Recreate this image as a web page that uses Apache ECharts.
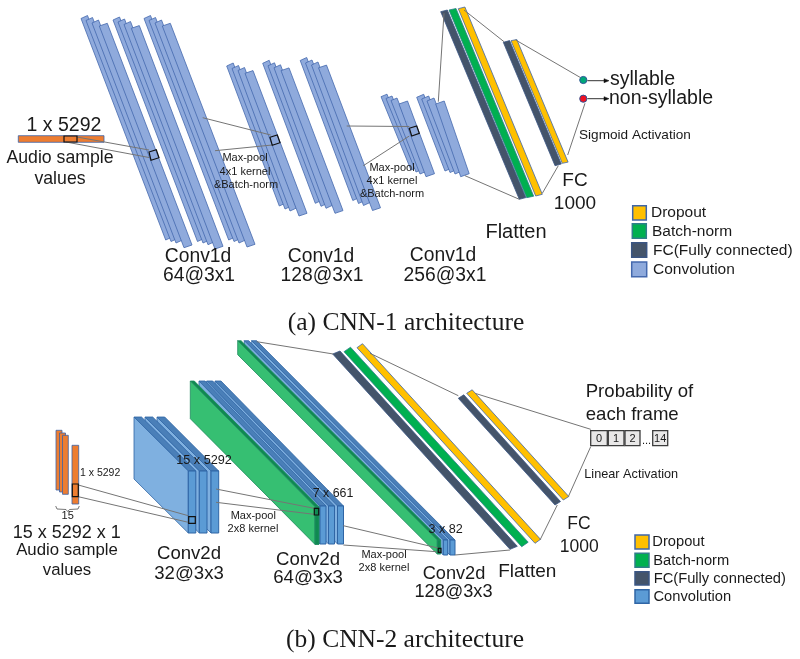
<!DOCTYPE html>
<html><head><meta charset="utf-8">
<style>html,body{margin:0;padding:0;background:#fff}#c{width:800px;height:659px}</style>
<script src="https://cdn.jsdelivr.net/npm/echarts@6/dist/echarts.min.js"></script>
</head><body><div id="c"></div>
<script>
// Colours of the layer kinds
const kinds = {
  conv1:{fill:'#8faadc',stroke:'#4468ad'},
  drop:{fill:'#ffc000',stroke:'#3f66a8'},
  batch:{fill:'#00b050',stroke:'#2f7f8a'},
  fc:{fill:'#44546a',stroke:'#3a5584'},
  orange:{fill:'#ed7d31',stroke:'#3a62a8'},
  conv2:{fill:'#5b9bd5',stroke:'#2f65a5'}
};
// Slanted slabs: top x, top y, bottom x, bottom y, width dx, width dy
const cnn1Conv = [
 [81,18.5,165.7,240,6.5,-3],[86,20.5,171,241.5,6.5,-3],[92,23,176,243,6.5,-3],[99.3,26,184,247.7,8,-2.7],
 [113,20,197.5,241.5,6.5,-3],[118,22,203,243,6.5,-3],[124,24.5,208,244.7,6.5,-3],[131.3,28.3,215,249,8,-2.7],
 [144,18.5,228.7,240,6.5,-3],[149,20.5,234,241.5,6.5,-3],[155,23,239,243,6.5,-3],[162.3,26,247,247,8,-2.7],
 [226.7,66,279.3,206,6.5,-3],[232,68.5,285,209,6.5,-3],[238,70.5,290,211,6.5,-3],[245,73.3,299,216,8,-2.7],
 [262.7,63.3,315.3,203.3,6.5,-3],[268,65.8,321,206.3,6.5,-3],[274,67.8,326,208.3,6.5,-3],[281,70.6,335,213.3,8,-2.7],
 [300.2,60.5,352.8,200.5,6.5,-3],[305.5,63,358.5,203.5,6.5,-3],[311.5,65,363.5,205.5,6.5,-3],[318.5,67.8,372.5,210.5,8,-2.7],
 [381,96.7,411,170,6,-2.5],[386,98.5,416,172,6,-2.5],[391,100.5,420,174,6,-2.5],[399,104,426,176.7,8.5,-3],
 [416.7,97.3,445,171,7,-3],[421.7,99,450,172.5,7,-3],[427,101,455,174,7,-3],[435.7,104,460.7,176.7,8.5,-3]
];
const cnn1Fc = [[440.7,11.7,519.3,199.3,6.6,-1.7],[503.3,42.3,555,165.7,6.3,-1.7]];
const cnn1Batch = [[449,10,526.7,197.7,7,-1.5]];
const cnn1Drop = [[458.3,8.7,535.7,196,6.6,-1.7],[511,40.7,562.3,163.3,5.8,-1.2]];
const cnn2Fc = [[332.7,354,510,549.3,7.3,-3],[458.3,398.3,555,505,5.5,-3.5]];
const cnn2Batch = [[344,351.7,521.7,546.7,6.5,-4.5]];
const cnn2Drop = [[357,347.7,535,543.3,5.5,-4],[466.7,393.3,563.3,500,5.5,-3.5]];

// Upright rectangles: x0, y0, x1, y1
const orangeBars = [[18.3,135.7,104,142.3],[56,430.3,62,490],[59.5,433,65.5,492],[62.5,435.3,68.3,494.3],[72,445.3,78.7,504]];
const probCells = [[590.7,430.7,607.3,445.7],[608.3,430.7,624,445.7],[625,430.7,640,445.7],[652.7,430.7,667.7,445.7]];
const blackBoxes = [[64,136,77,142],[72.3,484,78.3,496.7],[188.7,516.7,195.3,523.3],[314.3,508.3,318.7,515],[438.3,548.3,441,552.3]];
const blackQuads = [
 [[149,152],[156.3,149.7],[159,157.7],[151,160.3]],
 [[270,137.3],[277.3,135],[280,142.7],[272.3,145.3]],
 [[409.3,128.3],[416.7,126],[419.3,133.3],[411.7,136]]
];
const legendBoxes = [
 ['drop',632.7,205.7,646.3,220],['batch',632.3,223.7,646.3,238.3],['fc',631.7,242.7,646.7,257.3],['conv1',631.7,262,646.7,276.7],
 ['drop',635,535,649,549],['batch',635,553.3,649,567.3],['fc',635,571.7,649,585],['conv2',635,589.7,649,603.3]
];
// 3-D blocks, drawn in order: back x, back y, front x, front y, front width, height, side colour, front colour, stroke, top colour
const prisms = [
 [157,417,211,471,7.7,62,'#7fb0e0','#5b9bd5','#2f65a5','#4a7fb8'],
 [145,417,199.3,471,7.7,62,'#7fb0e0','#5b9bd5','#2f65a5','#4a7fb8'],
 [134,417,188.3,471,7.5,62,'#7fb0e0','#5b9bd5','#2f65a5','#4a7fb8'],
 [215,381,337.5,506,6,38,'#7fb0e0','#5b9bd5','#2f65a5','#4a7fb8'],
 [206.7,381,328.5,506,6,38,'#7fb0e0','#5b9bd5','#2f65a5','#4a7fb8'],
 [199,381,320,506,6,38,'#7fb0e0','#5b9bd5','#2f65a5','#4a7fb8'],
 [190.3,381,315,506.7,4,37.7,'#36bf72','#0f8a50','#1f8a60','#0f8a50'],
 [251.7,340.7,450,540,5,15,'#7fb0e0','#5b9bd5','#2f65a5','#4a7fb8'],
 [244.3,340.7,443.3,540,4.4,15,'#7fb0e0','#5b9bd5','#2f65a5','#4a7fb8'],
 [237.7,340.7,437.3,540,3.4,14,'#36bf72','#0f8a50','#1f8a60','#0f8a50']
];
// Connector lines: x0, y0, x1, y1
const greyLines = [
 [202.7,117.7,270.7,135],[215,150.7,272.3,145],[346.7,126,409.3,126.5],[363.3,165.7,409.3,136],
 [438.3,101.7,444,13.3],[465,175.7,519.3,199.3],[464,10,504,41.7],[515.7,40,580,77.3],[542.3,193.3,558.3,165.7],[567.7,155,585,103.3],
 [77,137,149,150],[66,142,149,157.5],
 [256.7,341.7,333.3,354],[370,353.3,458.3,395.7],[475,393.3,590.7,429.3],[568.3,496.7,590.7,446.7],[540,540,557.3,505],[455,555,510,550],
 [343.3,525.7,438,548],[343.3,545,436.7,551.7],[216,489,314,508.3],[216,502.3,314,514.3],[78.3,485,188.3,515.7],[78.3,496.7,188.3,522.3]
];
const arrowLines = [[587.3,80.7,605,80.7],[587.3,98.7,605,98.7]];
const arrowHeads = [[[604,78.7],[609,80.7],[604,82.7]],[[604,96.7],[609,98.7],[604,100.7]]];
const brace = [[55.7,506],[57,509],[66,509.5],[67.7,511.5],[69.5,509.5],[78,509],[79.3,506]];
// Output nodes: x, y, colour
const outputNodes = [[583.3,80,'#00a878'],[583.3,98.7,'#ee1122']];
// Text: string, x, y, size, align
const sansLabels = [
 ['1 x 5292',64,126,19.5,'center'],['Audio sample',60,158,17.7,'center'],['values',60,179,17.7,'center'],
 ['Conv1d',198,257,19.3,'center'],['64@3x1',199,276,19.3,'center'],['Conv1d',321,257,19.3,'center'],['128@3x1',322,276,19.3,'center'],
 ['Conv1d',443,256,19.3,'center'],['256@3x1',445,276,19.3,'center'],['Flatten',516,232,20,'center'],['FC',575,181,19,'center'],['1000',575,204,19,'center'],
 ['syllable',610,80,19.5,'left'],['non-syllable',609,99,19.5,'left'],['Sigmoid Activation',579,135,13.6,'left'],
 ['Max-pool',245,158,11,'center'],['4x1 kernel',245,172,11,'center'],['&Batch-norm',246,185,11,'center'],
 ['Max-pool',392,167.5,11,'center'],['4x1 kernel',392,181,11,'center'],['&Batch-norm',392,194,11,'center'],
 ['Dropout',651,213,15.5,'left'],['Batch-norm',652,232,15.5,'left'],['FC(Fully connected)',653,251,15.5,'left'],['Convolution',653,270,15.5,'left'],
 ['1 x 5292',80,473.3,10.5,'left'],['15',67.7,516,11,'center'],['15 x 5292 x 1',66.7,533,18,'center'],['Audio sample',67,550.7,16.8,'center'],['values',67,570.7,16.8,'center'],
 ['Conv2d',189,554,18.6,'center'],['32@3x3',189,574.3,18.6,'center'],['Conv2d',308,560,18.6,'center'],['64@3x3',308,578.3,18.6,'center'],
 ['Conv2d',454,574.3,18.2,'center'],['128@3x3',453.5,592.3,18.2,'center'],['Flatten',527.3,571.7,19,'center'],['FC',579,524,17.5,'center'],['1000',579.3,546.7,17.5,'center'],
 ['15 x 5292',204,460,12.7,'center'],['7 x 661',333,494,12.4,'center'],['3 x 82',445.7,530,12.6,'center'],
 ['Max-pool',253.3,515.7,11,'center'],['2x8 kernel',253,529,11,'center'],['Max-pool',384,555,11,'center'],['2x8 kernel',384,568.3,11,'center'],
 ['Probability of',585.7,392.3,18.6,'left'],['each frame',585.7,415,18.6,'left'],['Linear Activation',584.3,474.3,12.7,'left'],
 ['0',599,438.5,11,'center'],['1',616,438.5,11,'center'],['2',632.5,438.5,11,'center'],['...',646.5,441,11,'center'],['14',660.2,438.5,11,'center'],
 ['Dropout',652.3,542.3,14.7,'left'],['Batch-norm',653.3,561,14.7,'left'],['FC(Fully connected)',653.7,578.7,14.7,'left'],['Convolution',653.5,597,14.7,'left']
];
const captions = [['(a) CNN-1 architecture',406,323.5,25.5],['(b) CNN-2 architecture',405,640.5,25.5]];

const idx = a => a.map((_, i) => i);
const polyEl = (api, pts, fill, stroke, lw) => ({
  type:'polygon', shape:{points:pts.map(p => api.coord(p))},
  style:{fill:fill, stroke:stroke, lineWidth:lw === undefined ? 0.8 : lw}
});
const rectPts = r => [[r[0],r[1]],[r[2],r[1]],[r[2],r[3]],[r[0],r[3]]];
const base = {type:'custom', coordinateSystem:'cartesian2d', clip:false, silent:true, animation:false};
function series(arr, z, fn){
  return Object.assign({}, base, {z:z, data:idx(arr), encode:{x:0,y:0},
    renderItem:(params, api) => fn(arr[params.dataIndex], api)});
}
function slabSeries(arr, kind, z){
  return series(arr, z, (s, api) => polyEl(api,
    [[s[0],s[1]],[s[0]+s[4],s[1]+s[5]],[s[2]+s[4],s[3]+s[5]],[s[2],s[3]]],
    kinds[kind].fill, kinds[kind].stroke));
}
const lineEl = (api, l, color, w) => {
  const a = api.coord([l[0],l[1]]), b = api.coord([l[2],l[3]]);
  return {type:'line', shape:{x1:a[0],y1:a[1],x2:b[0],y2:b[1]}, style:{stroke:color,lineWidth:w}};
};
const chart = echarts.init(document.getElementById('c'), null, {renderer:'canvas'});
chart.setOption({
  animation:false,
  backgroundColor:'#ffffff',
  grid:{left:0,right:0,top:0,bottom:0},
  xAxis:{type:'value',min:0,max:800,show:false},
  yAxis:{type:'value',min:0,max:659,inverse:true,show:false},
  series:[
    slabSeries(cnn1Conv,'conv1',2),
    slabSeries(cnn1Fc,'fc',2), slabSeries(cnn1Batch,'batch',2), slabSeries(cnn1Drop,'drop',2),
    slabSeries(cnn2Fc,'fc',2), slabSeries(cnn2Batch,'batch',2), slabSeries(cnn2Drop,'drop',2),
    series(orangeBars,2,(r,api)=>polyEl(api,rectPts(r),kinds.orange.fill,kinds.orange.stroke)),
    series(prisms,2,(p,api)=>{
      const [x0,y0,xf,yf,w,h,side,face,st,top] = p;
      return {type:'group',children:[
        polyEl(api,[[x0,y0],[x0+w,y0],[xf+w,yf],[xf,yf]],top,st,0.8),
        polyEl(api,[[x0,y0],[xf,yf],[xf,yf+h],[x0,y0+h]],side,st,0.8),
        polyEl(api,rectPts([xf,yf,xf+w,yf+h]),face,st,1)
      ]};
    }),
    series(probCells,2,(r,api)=>polyEl(api,rectPts(r),'#e9e8e8','#3c3c3c',1.3)),
    series(legendBoxes,2,(b,api)=>polyEl(api,rectPts(b.slice(1)),kinds[b[0]].fill,kinds[b[0]].stroke,1.5)),
    series(greyLines,3,(l,api)=>lineEl(api,l,'#757575',1)),
    series(arrowLines,3,(l,api)=>lineEl(api,l,'#333333',1)),
    series(arrowHeads,3,(h,api)=>polyEl(api,h,'#111111','#111111',0.5)),
    series([brace],3,(b,api)=>({type:'polyline',shape:{points:b.map(p=>api.coord(p))},style:{fill:null,stroke:'#555555',lineWidth:0.8}})),
    series(blackBoxes,4,(r,api)=>polyEl(api,rectPts(r),'transparent','#111111',1.2)),
    series(blackQuads,4,(q,api)=>polyEl(api,q,'transparent','#111111',1.2)),
    series(outputNodes,4,(n,api)=>{
      const c = api.coord([n[0],n[1]]);
      return {type:'circle',shape:{cx:c[0],cy:c[1],r:3.6},style:{fill:n[2],stroke:'#2f5597',lineWidth:1}};
    }),
    series(sansLabels,5,(t,api)=>{
      const c = api.coord([t[1],t[2]]);
      return {type:'text',x:c[0],y:c[1],style:{text:t[0],fontFamily:'"Liberation Sans",Arial,sans-serif',fontSize:t[3],fill:'#1a1a1a',align:t[4],verticalAlign:'middle'}};
    }),
    series(captions,5,(t,api)=>{
      const c = api.coord([t[1],t[2]]);
      return {type:'text',x:c[0],y:c[1],style:{text:t[0],fontFamily:'"Liberation Serif","Times New Roman",serif',fontSize:t[3],fill:'#1a1a1a',align:'center',verticalAlign:'middle'}};
    })
  ]
});
</script></body></html>
